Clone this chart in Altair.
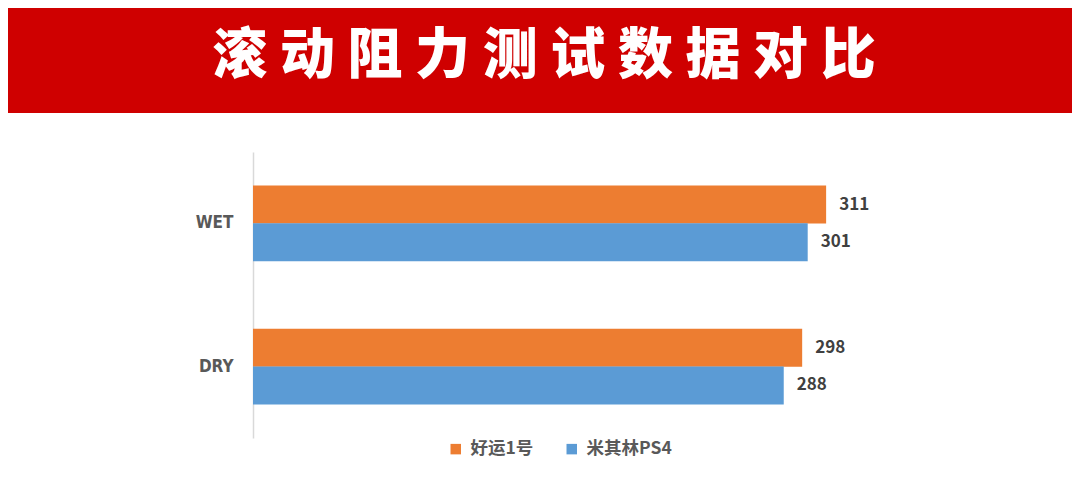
import altair as alt
import pandas as pd

categories = ["WET", "WET", "DRY", "DRY"]
series = ["好运1号", "米其林PS4", "好运1号", "米其林PS4"]
values = [311, 301, 298, 288]
series_order = ["好运1号", "米其林PS4"]
series_colors = ["#ED7D31", "#5B9BD5"]
title_text = "滚 动 阻 力 测 试 数 据 对 比"

df = pd.DataFrame({"cat": categories, "series": series, "value": values})
banner_df = pd.DataFrame({"t": [title_text]})

W, H = 645, 286

y_enc = alt.Y("cat:N", sort=["WET", "DRY"],
              scale=alt.Scale(paddingInner=0.472, paddingOuter=0.235),
              axis=alt.Axis(title=None, ticks=False, domainColor="#D9D9D9", domainWidth=1.5,
                            labelPadding=20, labelFont="DejaVu Sans Condensed",
                            labelFontWeight="bold", labelFontSize=17, labelColor="#595959"))
yoff_enc = alt.YOffset("series:N", sort=series_order,
                       scale=alt.Scale(paddingInner=0, paddingOuter=0))
x_enc = alt.X("value:Q", scale=alt.Scale(domain=[0, 350]), axis=None)

bars = alt.Chart(df).mark_bar(size=38).encode(
    x=x_enc, y=y_enc, yOffset=yoff_enc,
    color=alt.Color("series:N", sort=series_order,
                    scale=alt.Scale(domain=series_order, range=series_colors),
                    legend=alt.Legend(title=None, orient="none", direction="horizontal",
                                      legendX=194, legendY=288, symbolType="square",
                                      symbolSize=110, symbolStrokeWidth=0,
                                      labelFont="Noto Sans CJK SC", labelFontWeight="bold",
                                      labelFontSize=17.5, labelColor="#595959",
                                      columnPadding=29, labelOffset=6)),
)

labels = alt.Chart(df).mark_text(align="left", baseline="middle", dx=13,
                                 font="Noto Sans CJK SC", fontWeight="bold",
                                 fontSize=17, color="#404040").encode(
    x=x_enc, y=y_enc, yOffset=yoff_enc, text="value:Q"
)

banner = alt.Chart(banner_df).mark_rect(color="#CF0000").encode(
    x=alt.value(-260), x2=alt.value(840), y=alt.value(-160), y2=alt.value(-39)
)
title = alt.Chart(banner_df).mark_text(align="center", baseline="middle",
                                       font="Noto Sans CJK SC", fontWeight=900,
                                       fontSize=55, color="white").encode(
    x=alt.value(291), y=alt.value(-96), text="t:N"
)

chart = alt.layer(banner, title, bars, labels).properties(
    width=W, height=H,
    autosize=alt.AutoSizeParams(type="none"),
    padding={"left": 245, "top": 144, "right": 174, "bottom": 48},
    background="white",
).configure_view(strokeWidth=0)

chart.save("out.html", embed_options={"renderer": "svg", "actions": False})
